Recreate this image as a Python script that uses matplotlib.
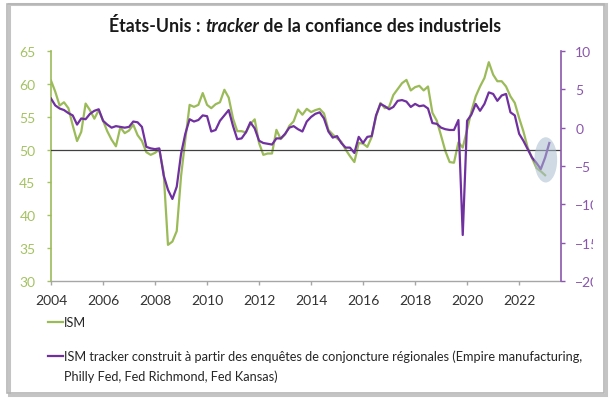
import matplotlib
matplotlib.use('Agg')
import matplotlib.pyplot as plt
import matplotlib.dates as mdates
from matplotlib.patches import Ellipse, Rectangle
from matplotlib.lines import Line2D
import pandas as pd

plt.rcParams['font.family'] = ['Lato', 'DejaVu Sans']

# ISM (left axis), read every two months from Jan 2004
ism = [60.5, 58.8, 56.7, 57.2, 56.3, 53.7, 51.3, 52.7, 57.0, 56.0,
       54.7, 56.0, 54.4, 52.8, 51.5, 50.5, 53.4, 52.5, 52.9, 53.8,
       52.2, 51.3, 49.6, 49.2, 49.5, 50.0, 46.5, 35.5, 36.0, 37.6,
       46.0, 51.5, 56.8, 56.5, 56.8, 58.6, 56.8, 56.3, 56.9, 57.2,
       59.1, 57.9, 54.7, 52.8, 52.8, 52.6, 53.9, 54.6, 51.0, 49.2,
       49.4, 49.4, 53.0, 51.6, 52.3, 53.6, 54.3, 56.1, 55.3, 56.2,
       55.7, 56.0, 56.2, 55.5, 53.0, 52.3, 51.7, 51.2, 50.0, 49.0,
       48.1, 51.0, 50.9, 50.4, 51.9, 55.0, 57.1, 56.3, 56.5, 58.3,
       59.2, 60.1, 60.6, 59.0, 59.5, 59.7, 59.0, 59.6, 55.6, 54.4,
       52.1, 49.8, 48.1, 48.0, 51.1, 50.3, 53.0, 55.8, 58.1, 59.6,
       60.9, 63.3, 61.4, 60.4, 60.4, 59.6, 58.1, 57.1, 54.8, 52.8,
       50.3, 48.7, 47.2, 46.7, 46.1]

# ISM tracker (right axis), same two-month steps
tracker = [3.8, 2.9, 2.5, 2.3, 1.9, 1.6, 0.4, 1.2, 1.1, 1.8,
           2.2, 2.4, 0.9, 0.4, 0.0, 0.2, 0.1, 0.0, 0.1, 0.8,
           0.7, 0.1, -2.5, -2.7, -2.8, -2.7, -6.2, -8.1, -9.3, -7.7,
           -3.4, -0.8, 1.1, 0.8, 1.0, 1.6, 1.5, -0.5, -0.3, 0.9,
           1.6, 2.3, 0.2, -1.5, -1.4, -0.6, 0.7, -0.1, -1.7, -2.0,
           -2.1, -2.2, -1.4, -1.4, -0.8, 0.0, 0.2, -0.2, -0.5, 0.8,
           1.4, 1.8, 2.0, 1.2, -0.5, -1.3, -1.1, -2.0, -2.6, -2.6,
           -3.3, -1.2, -2.0, -1.2, -1.1, 1.6, 3.1, 2.8, 2.4, 2.7,
           3.5, 3.6, 3.4, 2.7, 3.1, 2.8, 2.9, 2.5, 0.6, 0.5,
           0.0, -0.2, -0.3, -0.3, 1.0, -14.0, 0.9, 1.7, 3.1, 2.2,
           3.1, 4.6, 4.4, 3.5, 4.2, 4.4, 2.0, 1.6, -0.8, -1.7,
           -2.8, -3.9, -4.6, -5.4, -3.9, -2.0]

ism_dates = pd.date_range('2004-01-01', periods=len(ism), freq='2MS')
tracker_dates = pd.date_range('2004-01-01', periods=len(tracker), freq='2MS')

green = '#9BBB59'
purple = '#7030A0'
W, H = 610, 406

fig = plt.figure(figsize=(W / 100, H / 100), dpi=100)
fig.patch.set_facecolor('white')
ax = fig.add_axes([51 / W, 1 - 282 / H, 510 / W, 230 / H])
ax2 = ax.twinx()

ax.plot(ism_dates, ism, color=green, lw=1.6, zorder=2)
ax.axhline(50, color='#404040', lw=0.9, zorder=3)
ax2.plot(tracker_dates, tracker, color=purple, lw=1.6, zorder=2)

# highlight on the latest points
ax2.add_patch(Ellipse((mdates.date2num(pd.Timestamp('2023-01-10')), -4.2),
                      width=320, height=5.9, facecolor='#a9bccf',
                      edgecolor='none', alpha=0.55, zorder=4))

ax.set_ylim(30, 65)
ax2.set_ylim(-20, 10)
ax.set_yticks(range(30, 66, 5))
ax2.set_yticks(range(-20, 11, 5))
ax.set_xlim(pd.Timestamp('2004-01-01'), pd.Timestamp('2023-08-12'))
ax.xaxis.set_major_locator(mdates.YearLocator(2))
ax.xaxis.set_major_formatter(mdates.DateFormatter('%Y'))

for a in (ax, ax2):
    a.spines['top'].set_visible(False)
ax.spines['right'].set_visible(False)
ax2.spines['left'].set_visible(False)
ax2.spines['bottom'].set_visible(False)
ax.spines['left'].set_color(green)
ax.spines['left'].set_linewidth(1.2)
ax2.spines['right'].set_color('#8a56ac')
ax2.spines['right'].set_linewidth(1.2)
ax.spines['bottom'].set_color('#a6a6a6')
ax.spines['bottom'].set_linewidth(1.0)

ax.tick_params(axis='y', colors='#a4c262', length=3.2, width=1, pad=8, labelsize=10)
ax2.tick_params(axis='y', colors='#8a56ac', length=3.2, width=1, pad=7, labelsize=10)
ax.tick_params(axis='x', colors='#a6a6a6', labelcolor='#333333', length=3.2,
               width=1, pad=6, labelsize=10)

# white mask clipping the right tick labels (plot height only), then the frame
fig.add_artist(Rectangle((593 / W, 1 - 300 / H), 10 / W, 260 / H, transform=fig.transFigure,
                         facecolor='white', edgecolor='none', zorder=5))
fig.add_artist(Rectangle((8.5 / W, 1 - 396 / H), 597 / W, 391 / H, transform=fig.transFigure,
                         facecolor='none', edgecolor='#c4c4c4', lw=2.2, zorder=6))
fig.add_artist(Rectangle((6.5 / W, 1 - 394 / H), 597 / W, 389 / H, transform=fig.transFigure,
                         facecolor='none', edgecolor='#b5b5b5', lw=1.2, zorder=7))

# title with italic word
ty = 1 - 26 / H
tkw = dict(fontsize=12.8, fontweight='bold', va='center', color='#1a1a1a')
t1 = fig.text(0, ty, 'États-Unis : ', **tkw)
t2 = fig.text(0, ty, 'tracker', style='italic', **tkw)
t3 = fig.text(0, ty, ' de la confiance des industriels', **tkw)
renderer = fig.canvas.get_renderer()
ws = [t.get_window_extent(renderer).width for t in (t1, t2, t3)]
x0 = 305 - sum(ws) / 2
t1.set_x(x0 / W)
t2.set_x((x0 + ws[0]) / W)
t3.set_x((x0 + ws[0] + ws[1]) / W)

# legend below the chart
leg_font = 9.2
fig.add_artist(Line2D([48 / W, 63 / W], [1 - 323 / H] * 2, color=green, lw=1.6))
fig.text(64 / W, 1 - 323 / H, 'ISM', fontsize=leg_font, va='center', color='#262626')
fig.add_artist(Line2D([48 / W, 63 / W], [1 - 357 / H] * 2, color=purple, lw=1.6))
fig.text(64 / W, 1 - 357 / H,
         'ISM tracker construit à partir des enquêtes de conjoncture régionales (Empire manufacturing,',
         fontsize=leg_font, va='center', color='#262626')
fig.text(64 / W, 1 - 377 / H, 'Philly Fed, Fed Richmond, Fed Kansas)',
         fontsize=leg_font, va='center', color='#262626')

fig.savefig('out.png', dpi=100)
